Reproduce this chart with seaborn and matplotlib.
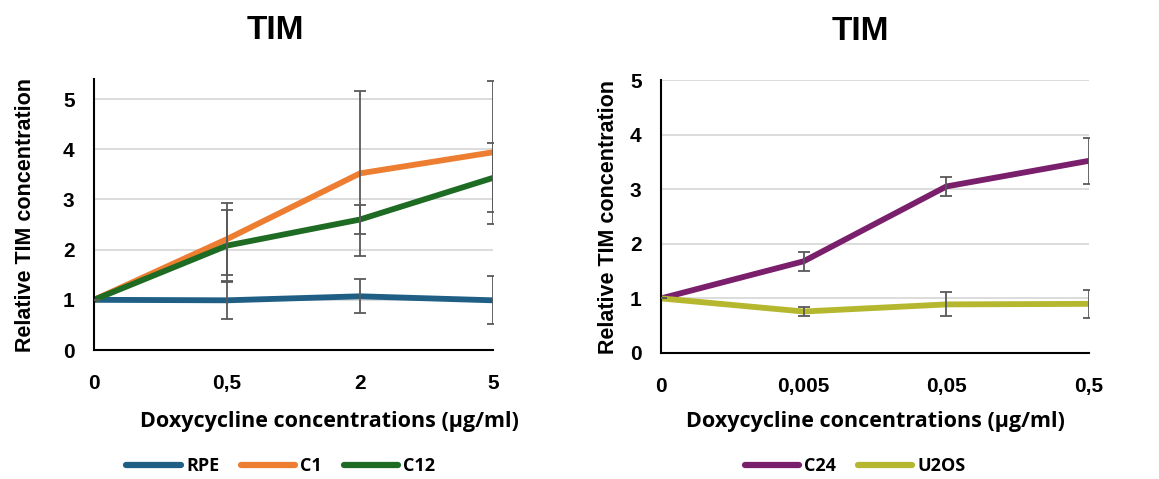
import numpy as np
import pandas as pd
import matplotlib
matplotlib.use("Agg")
import matplotlib.pyplot as plt
import seaborn as sns

# left panel
doses_left = ["0", "0,5", "2", "5"]
rpe = [1.0, 0.99, 1.07, 0.99]
rpe_err = [0, 0.37, 0.34, 0.48]
c1 = [1.0, 2.21, 3.52, 3.94]
c1_err = [0, 0.72, 1.65, 1.43]
c12 = [1.0, 2.08, 2.60, 3.43]
c12_err = [0, 0.70, 0.29, 0.69]

# right panel
doses_right = ["0", "0,005", "0,05", "0,5"]
c24 = [1.0, 1.68, 3.05, 3.52]
c24_err = [0, 0.17, 0.18, 0.42]
u2os = [1.0, 0.76, 0.89, 0.90]
u2os_err = [0, 0.08, 0.22, 0.25]

colors = {"RPE": "#1f5f85", "C1": "#ed7d31", "C12": "#1e6b23",
          "C24": "#7a1f6c", "U2OS": "#b5b82e"}

sns.set_style("white")
plt.rcParams['font.family'] = ['Liberation Sans', 'DejaVu Sans']
for key in ["text.color", "axes.labelcolor", "xtick.color", "ytick.color"]:
    plt.rcParams[key] = "black"


def make_df(doses, series):
    rows = []
    for name, (vals, errs) in series.items():
        for i, d in enumerate(doses):
            rows.append({"pos": i, "dose": d, "value": vals[i], "err": errs[i], "line": name})
    return pd.DataFrame(rows)


def draw_panel(fig, ax, doses, series, ymax, title_x, xlabel_x, ylabelpad, legend_x):
    df = make_df(doses, series)
    for name in series:
        sub = df[df["line"] == name]
        ax.errorbar(sub["pos"], sub["value"], yerr=sub["err"], fmt="none",
                    ecolor="#595959", elinewidth=1.3, capsize=4, capthick=1.3, zorder=3)
    sns.lineplot(data=df, x="pos", y="value", hue="line", palette=colors,
                 linewidth=4.2, ax=ax, zorder=2, legend=False)
    ax.set_xlim(0, len(doses) - 1)
    ax.set_ylim(0, ymax)
    ax.set_xticks(range(len(doses)))
    ax.set_xticklabels(doses)
    ax.set_yticks(range(6))
    ax.tick_params(axis="x", labelsize=15, length=0, pad=17)
    ax.tick_params(axis="y", labelsize=15, length=0, pad=14)
    for lab in ax.get_xticklabels() + ax.get_yticklabels():
        lab.set_fontweight("bold")
    ax.yaxis.grid(True, color="#d9d9d9", linewidth=1.3)
    ax.xaxis.grid(False)
    ax.set_axisbelow(True)
    for s in ["top", "right"]:
        ax.spines[s].set_visible(False)
    for s in ["left", "bottom"]:
        ax.spines[s].set_color("black")
        ax.spines[s].set_linewidth(1.5)
    ax.set_title("TIM", fontsize=24, fontweight="bold", pad=29, x=title_x)
    ax.set_ylabel("Relative TIM concentration", fontsize=15.5, fontweight="bold", labelpad=ylabelpad)
    ax.set_xlabel("Doxycycline concentrations (µg/ml)", fontsize=15.5, fontweight="bold",
                  family=["Open Sans", "DejaVu Sans"])
    ax.xaxis.label.set_va("center")
    pos = ax.get_position()
    ax.xaxis.set_label_coords(xlabel_x, (1 - 421 / 479 - pos.y0) / pos.height)
    handles = [plt.Line2D([], [], color=colors[n], linewidth=4.5, solid_capstyle="round") for n in series]
    fig.legend(handles, list(series), loc="center", bbox_to_anchor=(legend_x / 1159, 1 - 466 / 479),
               ncol=len(series), frameon=False, handlelength=3.0, handletextpad=0.3,
               columnspacing=1.2, prop={"family": ["Open Sans", "DejaVu Sans"], "weight": "bold", "size": 13})


fig = plt.figure(figsize=(11.59, 4.79), dpi=100)
ax1 = fig.add_axes([94 / 1159, 1 - 350 / 479, 399 / 1159, 271 / 479])
ax2 = fig.add_axes([661 / 1159, 1 - 353 / 479, 428 / 1159, 273 / 479])

draw_panel(fig, ax1, doses_left, {"RPE": (rpe, rpe_err), "C1": (c1, c1_err), "C12": (c12, c12_err)},
           5.4, 0.454, 0.59, 19, 281)
draw_panel(fig, ax2, doses_right, {"C24": (c24, c24_err), "U2OS": (u2os, u2os_err)},
           5.0, 0.465, 0.5, 8, 855)

fig.savefig("out.png", dpi=100)
